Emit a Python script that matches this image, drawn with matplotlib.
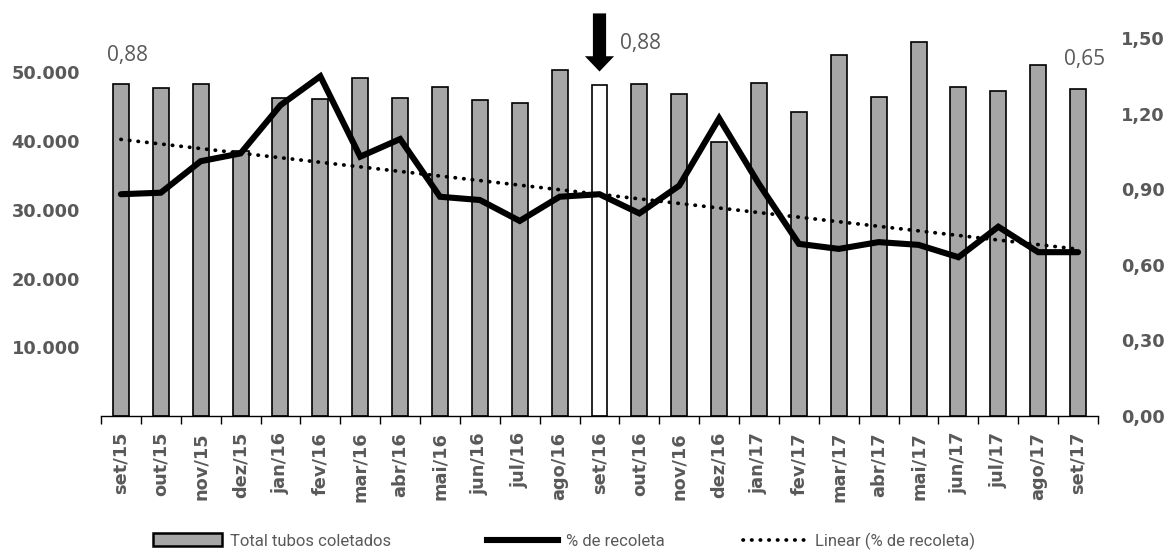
import numpy as np
import matplotlib
matplotlib.use("Agg")
import matplotlib.pyplot as plt
from matplotlib.ticker import FixedLocator, FuncFormatter
from matplotlib.lines import Line2D
from matplotlib.patches import Patch

# dados mensais
meses = ["set/15", "out/15", "nov/15", "dez/15", "jan/16", "fev/16", "mar/16",
         "abr/16", "mai/16", "jun/16", "jul/16", "ago/16", "set/16", "out/16",
         "nov/16", "dez/16", "jan/17", "fev/17", "mar/17", "abr/17", "mai/17",
         "jun/17", "jul/17", "ago/17", "set/17"]
tubos = [48350, 47700, 48350, 38530, 46200, 46060, 49120, 46200, 47910,
         46020, 45520, 50280, 48100, 48350, 46890, 39800, 48430, 44170,
         52510, 46400, 54460, 47910, 47330, 51060, 47620]
recoleta = [0.88, 0.886, 1.011, 1.042, 1.233, 1.348, 1.029, 1.099, 0.870,
            0.857, 0.774, 0.870, 0.88, 0.804, 0.914, 1.181, 0.92, 0.683,
            0.663, 0.690, 0.679, 0.630, 0.751, 0.650, 0.65]
destaque = "set/16"
rotulos = ["set/15", "set/16", "set/17"]

CINZA = "#A6A6A6"
TEXTO = "#595959"
FONTE_LEG, TAM_LEG = "Roboto", 12

plt.rcParams["font.family"] = ["DejaVu Sans"]

x = np.arange(len(meses))
i_dest = meses.index(destaque)
cores = [CINZA] * len(meses)
cores[i_dest] = "white"

fig = plt.figure(figsize=(11.66, 5.57), dpi=100)
ax = fig.add_axes([0.0866, 0.2532, 0.8551, 0.6786])
ax2 = ax.twinx()

ax.bar(x, tubos, width=0.4, color=cores, edgecolor="black", linewidth=1.2, zorder=2)
ax.set_xlim(-0.5, len(meses) - 0.5)
ax.set_ylim(0, 55000)
ax2.set_ylim(0, 1.5)

# tendência linear do % de recoleta
coef = np.polyfit(x, recoleta, 1)
tend = np.polyval(coef, x)
ax2.plot(x, tend, color="black", lw=2.7, linestyle=(0, (0.1, 2.2)),
         dash_capstyle="round", zorder=3)
ax2.plot(x, recoleta, color="black", lw=4.4, solid_joinstyle="miter",
         solid_capstyle="round", zorder=4)

# eixos
for s in ("top", "left", "right"):
    ax.spines[s].set_visible(False)
for s in ax2.spines.values():
    s.set_visible(False)
ax.spines["bottom"].set_color("black")
ax.spines["bottom"].set_linewidth(1.0)

ax.set_xticks(x)
ax.set_xticklabels(meses, rotation=90, fontsize=12.8, fontweight="bold", color=TEXTO)
ax.xaxis.set_minor_locator(FixedLocator(np.arange(-0.5, len(meses), 1)))
ax.tick_params(axis="x", which="major", length=0, pad=11.5)
ax.tick_params(axis="x", which="minor", length=5.5, width=1.0, color="black")

ax.yaxis.set_major_locator(FixedLocator([10000, 20000, 30000, 40000, 50000]))
ax.yaxis.set_major_formatter(FuncFormatter(lambda v, p: f"{v:,.0f}".replace(",", ".")))
ax.tick_params(axis="y", length=0, pad=15, labelsize=12.8, labelcolor=TEXTO)
for t in ax.get_yticklabels():
    t.set_fontweight("bold")

ax2.yaxis.set_major_locator(FixedLocator([0, 0.3, 0.6, 0.9, 1.2, 1.5]))
ax2.yaxis.set_major_formatter(FuncFormatter(lambda v, p: f"{v:.2f}".replace(".", ",")))
ax2.tick_params(axis="y", length=0, pad=16.5, labelsize=12.8, labelcolor=TEXTO)
for t in ax2.get_yticklabels():
    t.set_fontweight("bold")

# rótulos de valor
desloc = {"set/15": (7, 139), "set/16": (41, 151), "set/17": (6, 193)}
for m in rotulos:
    i = meses.index(m)
    v = recoleta[i]
    ax2.annotate(f"{v:.2f}".replace(".", ","), xy=(i, v), xytext=desloc[m],
                 textcoords="offset pixels", ha="center", va="center",
                 fontsize=15, family="Open Sans", color=TEXTO, zorder=5)

# seta sobre o mês em destaque
ax.annotate("", xy=(i_dest, tubos[i_dest]), xytext=(0, 72), textcoords="offset pixels",
            arrowprops=dict(arrowstyle="simple,head_length=11,head_width=21,tail_width=9.5",
                            mutation_scale=1, fc="black", ec="black", lw=0,
                            shrinkA=0, shrinkB=10),
            annotation_clip=False, zorder=6)

# legenda em três blocos
h1 = Patch(facecolor=CINZA, edgecolor="black", linewidth=1.8)
h2 = Line2D([], [], color="black", lw=4.4)
h3 = Line2D([], [], color="black", lw=2.7, linestyle=(0, (0.1, 2.2)), dash_capstyle="round")
em = TAM_LEG * 100 / 72
for h, lab, xpos, larg in [(h1, "Total tubos coletados", 153, 69),
                           (h2, "% de recoleta", 487, 71),
                           (h3, "Linear (% de recoleta)", 743, 64)]:
    fig.legend([h], [lab], bbox_to_anchor=(xpos / 1166, 1 - 541 / 557),
               loc="center left", frameon=False, borderpad=0, borderaxespad=0,
               handlelength=larg / em, handleheight=13 / em, handletextpad=8 / em,
               labelcolor=TEXTO, prop={"family": FONTE_LEG, "size": TAM_LEG})

fig.savefig("out.png", dpi=100)
